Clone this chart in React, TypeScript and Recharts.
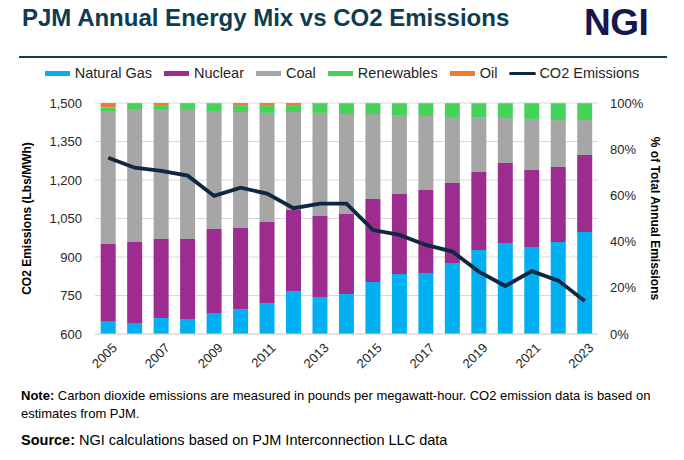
import React from "react";
import {
  ComposedChart,
  Bar,
  Line,
  XAxis,
  YAxis,
  CartesianGrid,
  Legend,
} from "recharts";

const years = [
  "2005", "2006", "2007", "2008", "2009", "2010", "2011", "2012", "2013", "2014",
  "2015", "2016", "2017", "2018", "2019", "2020", "2021", "2022", "2023",
];

// shares of annual mix, %
const naturalGas = [5.3, 4.8, 6.9, 6.5, 9.1, 10.8, 13.4, 18.6, 16.0, 17.3, 22.5, 26.0, 26.4, 30.7, 36.4, 39.4, 37.7, 39.8, 44.2];
const nuclear = [33.7, 35.0, 34.2, 34.6, 36.4, 35.1, 35.1, 35.1, 35.1, 34.6, 35.9, 34.6, 35.9, 34.7, 33.7, 34.6, 33.3, 32.5, 33.3];
const coal = [57.5, 57.6, 55.9, 55.9, 51.0, 50.2, 47.2, 42.4, 44.6, 43.3, 36.8, 34.2, 32.1, 28.5, 23.8, 19.5, 22.1, 20.3, 15.1];
const renewables = [1.6, 2.3, 2.1, 2.7, 3.3, 3.0, 3.4, 3.0, 4.0, 4.6, 4.6, 5.0, 5.4, 5.9, 5.9, 6.3, 6.7, 7.2, 7.2];
const oil = [1.9, 0.3, 0.9, 0.3, 0.2, 0.9, 0.9, 0.9, 0.3, 0.2, 0.2, 0.2, 0.2, 0.2, 0.2, 0.2, 0.2, 0.2, 0.2];

// lbs/MWh
const co2 = [1287, 1248, 1236, 1217, 1138, 1170, 1147, 1090, 1108, 1108, 1005, 986, 947, 921, 843, 787, 845, 808, 729];

const co2Ticks = [600, 750, 900, 1050, 1200, 1350, 1500];
const pctTicks = [0, 20, 40, 60, 80, 100];

const legendOrder = ["Natural Gas", "Nuclear", "Coal", "Renewables", "Oil", "CO2 Emissions"];

const data = years.map((year, i) => ({
  year,
  gas: naturalGas[i],
  nuclear: nuclear[i],
  coal: coal[i],
  renewables: renewables[i],
  oil: oil[i],
  co2: co2[i],
}));

const FONT = '"Liberation Sans", Arial, sans-serif';
const tickStyle = { fontSize: 13, fill: "#262626", fontFamily: FONT };

const renderLegend = (props: any) => {
  const payload = [...(props.payload || [])].sort(
    (a: any, b: any) => legendOrder.indexOf(a.value) - legendOrder.indexOf(b.value)
  );
  return (
    <div style={{ display: "flex", justifyContent: "center", alignItems: "center", fontFamily: FONT, fontSize: 14.5, color: "#262626" }}>
      {payload.map((p: any, i: number) => (
        <div key={p.value} style={{ display: "flex", alignItems: "center", marginRight: i === payload.length - 1 ? 0 : 12 }}>
          {p.type === "line" ? (
            <span style={{ display: "inline-block", width: 27, height: 3, borderRadius: 2, background: p.color, marginRight: 3 }} />
          ) : (
            <span style={{ display: "inline-block", width: 25, height: 5, background: p.color, marginRight: 5 }} />
          )}
          <span>{p.value}</span>
        </div>
      ))}
    </div>
  );
};

export default function App() {
  return (
    <div style={{ position: "absolute", left: 0, top: 0, width: 684, height: 460, background: "#fff", fontFamily: FONT }}>
      <div style={{ position: "absolute", left: 22, top: 4, fontSize: 24, fontWeight: 700, color: "#0e3c50", whiteSpace: "nowrap" }}>
        PJM Annual Energy Mix vs CO2 Emissions
      </div>
      <div style={{ position: "absolute", left: 584, top: 2, fontSize: 37, fontWeight: 700, color: "#16174a", letterSpacing: -0.5 }}>
        NGI
      </div>
      <div style={{ position: "absolute", left: 19, top: 56, width: 648, height: 2, background: "#0b4252" }} />

      <div style={{ position: "absolute", left: 0, top: 0 }}>
        <ComposedChart width={684} height={460} data={data} margin={{ top: 103, right: 36, bottom: 76, left: 35 }} barCategoryGap="21.5%">
          <CartesianGrid yAxisId="co2" vertical={false} stroke="#d9d9d9" />
          <XAxis
            dataKey="year"
            interval={1}
            tickLine={false}
            axisLine={{ stroke: "#d9d9d9" }}
            angle={-45}
            textAnchor="end"
            height={50}
            tick={{ ...tickStyle, dx: 3 }}
          />
          <YAxis
            yAxisId="co2"
            orientation="left"
            width={60}
            domain={[600, 1500]}
            ticks={co2Ticks}
            tickLine={false}
            axisLine={false}
            tickMargin={7}
            tick={tickStyle}
            tickFormatter={(v: number) => v.toLocaleString("en-US")}
            label={{
              value: "CO2 Emissions (Lbs/MWh)",
              angle: -90,
              position: "center",
              dx: -38,
              style: { fontSize: 12, fontWeight: 700, fill: "#000", fontFamily: FONT },
            }}
          />
          <YAxis
            yAxisId="pct"
            orientation="right"
            width={50}
            domain={[0, 100]}
            ticks={pctTicks}
            tickLine={false}
            axisLine={false}
            tickMargin={6}
            tick={{ ...tickStyle, textAnchor: "start" }}
            tickFormatter={(v: number) => `${v}%`}
            label={{
              value: "% of Total Annual Emissions",
              angle: 90,
              position: "center",
              dx: 32,
              style: { fontSize: 12, fontWeight: 700, fill: "#000", fontFamily: FONT },
            }}
          />
          <Legend
            layout="horizontal"
            verticalAlign="middle"
            align="center"
            itemSorter={null as any}
            wrapperStyle={{ top: 65, left: 0, width: 684 }}
            content={renderLegend}
          />
          <Bar yAxisId="pct" dataKey="gas" name="Natural Gas" stackId="mix" fill="#00b0f0" isAnimationActive={false} />
          <Bar yAxisId="pct" dataKey="nuclear" name="Nuclear" stackId="mix" fill="#9e2b90" isAnimationActive={false} />
          <Bar yAxisId="pct" dataKey="coal" name="Coal" stackId="mix" fill="#a6a6a6" isAnimationActive={false} />
          <Bar yAxisId="pct" dataKey="renewables" name="Renewables" stackId="mix" fill="#45d35a" isAnimationActive={false} />
          <Bar yAxisId="pct" dataKey="oil" name="Oil" stackId="mix" fill="#f07a32" isAnimationActive={false} />
          <Line
            yAxisId="co2"
            dataKey="co2"
            name="CO2 Emissions"
            type="linear"
            stroke="#0e2841"
            strokeWidth={3.8}
            dot={false}
            legendType="line"
            isAnimationActive={false}
          />
        </ComposedChart>
      </div>

      <div style={{ position: "absolute", left: 21, top: 387, fontSize: 13, lineHeight: "18px", color: "#000", whiteSpace: "nowrap" }}>
        <b>Note:</b> Carbon dioxide emissions are measured in pounds per megawatt-hour. CO2 emission data is based on
      </div>
      <div style={{ position: "absolute", left: 21, top: 405, fontSize: 13, lineHeight: "18px", color: "#000", whiteSpace: "nowrap" }}>
        estimates from PJM.
      </div>
      <div style={{ position: "absolute", left: 21, top: 432, fontSize: 14.5, color: "#000", whiteSpace: "nowrap" }}>
        <b>Source:</b> NGI calculations based on PJM Interconnection LLC data
      </div>
    </div>
  );
}
